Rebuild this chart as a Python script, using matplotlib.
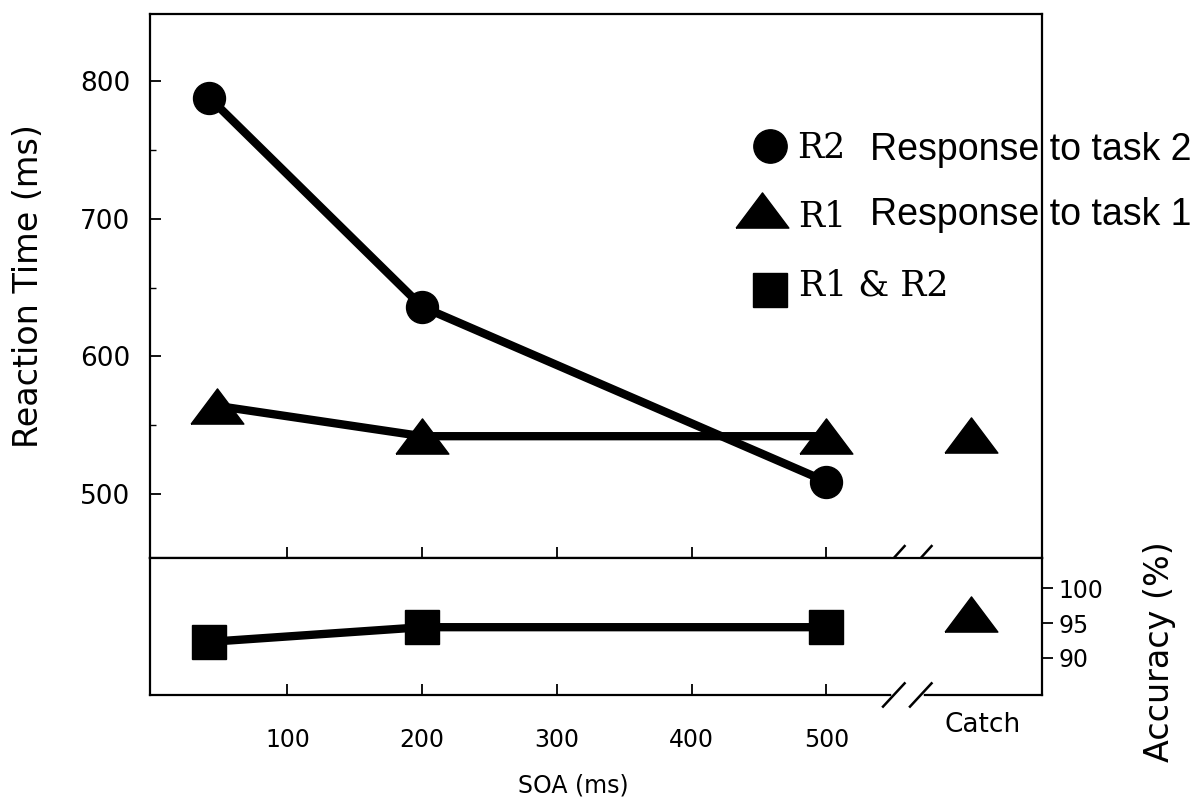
import matplotlib
matplotlib.use("Agg")
import matplotlib.pyplot as plt
import matplotlib.transforms as mtransforms

# --- data ---
soa_r2 = [42, 200, 500]
rt_r2 = [788, 636, 509]

soa_r1 = [48, 200, 500]
rt_r1 = [564, 542, 542]

catch_x = 607
rt_r1_catch = 543
acc_catch = 96.3

soa_acc = [42, 200, 500]
acc_both = [92.3, 94.4, 94.4]

x_ticks = [100, 200, 300, 400, 500]
rt_ticks = [500, 600, 700, 800]
rt_minor = [550, 650, 750]
acc_ticks = [90, 95, 100]
break_x = [550, 570]

# triangle that is wider than tall, like the scanned markers
tri = [(-1.5, -1.0), (0.0, 1.0), (1.5, -1.0), (-1.5, -1.0)]

fig = plt.figure(figsize=(11.92, 7.99), dpi=100)
ax = fig.add_axes([0.1258, 0.3016, 0.7484, 0.6809])
ax2 = fig.add_axes([0.1258, 0.1302, 0.7484, 0.1714], sharex=ax)

lw = 6
# upper panel: reaction time
ax.plot(soa_r2, rt_r2, color="black", lw=lw, marker="o", ms=23, zorder=3)
ax.plot(soa_r1, rt_r1, color="black", lw=lw, marker=tri, ms=38, zorder=3)
ax.plot([catch_x], [rt_r1_catch], ls="none", color="black", marker=tri, ms=38)

ax.set_xlim(-2, 660)
ax.set_ylim(453.5, 848.7)
ax.set_yticks(rt_ticks)
ax.set_yticks(rt_minor, minor=True)
ax.tick_params(axis="y", which="major", direction="in", length=8, width=1.3,
               labelsize=19, pad=14)
ax.tick_params(axis="y", which="minor", direction="in", length=4, width=1)
ax.tick_params(axis="x", direction="in", length=8, width=1.3, labelbottom=False)
ax.set_ylabel("Reaction Time (ms)", fontsize=24)
ax.yaxis.set_label_coords(-0.118, 0.5)
for s in ax.spines.values():
    s.set_linewidth(1.6)

# legend drawn by hand
tr = ax.transAxes
ax.plot([0.695], [0.757], transform=tr, marker="o", ms=24, color="black", clip_on=False)
ax.plot([0.686], [0.640], transform=tr, marker=tri, ms=38, color="black", clip_on=False)
ax.plot([0.695], [0.493], transform=tr, marker="s", ms=24, color="black", clip_on=False)
serif = dict(family="DejaVu Serif", fontsize=25, va="baseline", transform=tr)
ax.text(0.725, 0.735, "R2", **serif)
ax.text(0.727, 0.608, "R1", **serif)
ax.text(0.728, 0.483, "R1 & R2", **serif)
sans = dict(family="Liberation Sans", fontsize=27, va="baseline", transform=tr)
ax.text(0.807, 0.732, "Response to task 2", **sans)
ax.text(0.807, 0.612, "Response to task 1", **sans)

# lower panel: accuracy
ax2.plot(soa_acc, acc_both, color="black", lw=lw, marker="s", ms=24, zorder=3)
ax2.plot([catch_x], [acc_catch], ls="none", color="black", marker=tri, ms=38)
ax2.set_ylim(84.7, 104.3)
ax2.yaxis.tick_right()
ax2.set_yticks(acc_ticks)
ax2.tick_params(axis="y", direction="out", length=8, width=1.3, labelsize=17, pad=4)
ax2.set_xticks(x_ticks)
ax2.tick_params(axis="x", direction="in", length=8, width=1.3, labelsize=17, pad=24)
ax2.set_xlabel("SOA (ms)", fontsize=17)
ax2.xaxis.set_label_coords(0.475, -0.57)
for s in ax2.spines.values():
    s.set_linewidth(1.6)
ax2.text(616, -0.22, "Catch", transform=mtransforms.blended_transform_factory(ax2.transData, ax2.transAxes),
         ha="center", va="center", fontsize=19)

fig.text(0.973, 0.185, "Accuracy (%)", rotation=90, ha="center", va="center", fontsize=24)

# axis breaks: gap in the line and two slashes on each panel
for a, dy in [(ax, 0.022), (ax2, 0.085)]:
    bt = mtransforms.blended_transform_factory(a.transData, a.transAxes)
    a.plot(break_x, [0, 0], transform=bt, color="white", lw=4, clip_on=False, zorder=5)
    for bx in break_x:
        a.plot([bx - 8, bx + 8], [-dy, dy], transform=bt, color="black", lw=1.8,
               clip_on=False, zorder=6)

fig.savefig("out.png", dpi=100, facecolor="white")
plt.close(fig)
